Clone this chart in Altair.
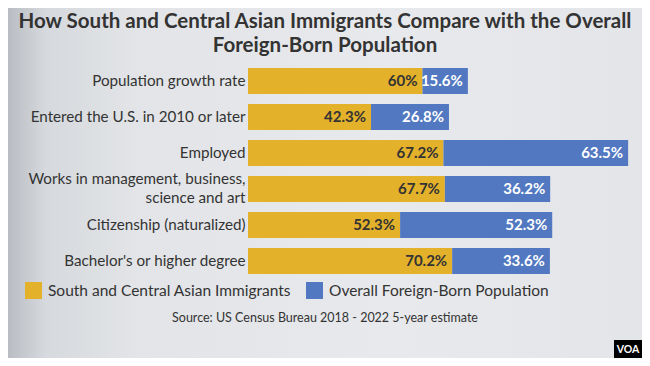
import altair as alt
import pandas as pd

categories = [
    "Population growth rate",
    "Entered the U.S. in 2010 or later",
    "Employed",
    "Works in management, business, science and art",
    "Citizenship (naturalized)",
    "Bachelor's or higher degree",
]
asian_vals = [60, 42.3, 67.2, 67.7, 52.3, 70.2]
overall_vals = [15.6, 26.8, 63.5, 36.2, 52.3, 33.6]
series = ["South and Central Asian Immigrants", "Overall Foreign-Born Population"]
colors = ["#E3B12A", "#5178C0"]
title_lines = [
    "How South and Central Asian Immigrants Compare with the Overall",
    "Foreign-Born Population",
]
source_text = ["Source: US Census Bureau 2018 - 2022 5-year estimate"]

rows = []
for c, a, o in zip(categories, asian_vals, overall_vals):
    rows.append(dict(category=c, group=series[0], start=0, end=a, label=f"{a:g}%"))
    rows.append(dict(category=c, group=series[1], start=a, end=a + o, label=f"{o:g}%"))
df = pd.DataFrame(rows)

FONT = "Lato"
W, H = 381, 216
PL, PT, PR, PB = 240, 55, 13, 79

xscale = alt.Scale(domain=[0, 131], nice=False, zero=True)
yenc = alt.Y(
    "category:N",
    sort=categories,
    scale=alt.Scale(paddingInner=10 / 36, paddingOuter=5 / 36),
    axis=alt.Axis(
        title=None, ticks=False, domain=False, labelFontSize=15.2, labelFont=FONT,
        labelColor="#333333", labelPadding=3, labelLimit=0, labelLineHeight=19,
        zindex=2,
        labelOffset={
            "condition": {
                "test": "datum.value == 'Works in management, business, science and art'",
                "value": -10,
            },
            "value": 0,
        },
        labelExpr="datum.value == 'Works in management, business, science and art' ? "
                  "['Works in management, business,', 'science and art'] : datum.value",
    ),
)

bg = alt.Chart(pd.DataFrame({"k": [0]})).mark_rect(
    color=alt.Gradient(
        gradient="linear", x1=0, x2=1, y1=0, y2=0,
        stops=[
            alt.GradientStop(color="#b9bdc3", offset=0),
            alt.GradientStop(color="#d6d9dd", offset=0.06),
            alt.GradientStop(color="#e2e4e7", offset=0.2),
            alt.GradientStop(color="#e8e9ec", offset=0.6),
            alt.GradientStop(color="#e3e5e8", offset=1),
        ],
    )
).encode(x=alt.value(-PL), x2=alt.value(W + PR), y=alt.value(-PT), y2=alt.value(H + PB))

title = alt.Chart(pd.DataFrame({"t": [title_lines]})).mark_text(
    fontSize=20.5, font=FONT, fontWeight="bold", color="#333333",
    align="center", baseline="middle", lineHeight=24,
).encode(x=alt.value(77), y=alt.value(-41), text="t")

base = alt.Chart(df)
bars = base.mark_bar().encode(
    x=alt.X("start:Q", scale=xscale, axis=None),
    x2="end:Q",
    y=yenc,
    color=alt.Color(
        "group:N",
        scale=alt.Scale(domain=series, range=colors),
        legend=alt.Legend(
            orient="none", legendX=-223, legendY=219, direction="horizontal",
            title=None, symbolType="square", symbolSize=289, labelFontSize=15.5,
            labelFont=FONT, labelColor="#333333", columnPadding=14, labelOffset=6,
            symbolStrokeWidth=0, symbolOpacity=1, labelLimit=400, zindex=2,
        ),
    ),
)

txt_a = base.transform_filter(alt.datum.group == series[0]).mark_text(
    align="right", baseline="middle", dx=-5, fontSize=15, font=FONT,
    fontWeight="bold", color="#333333",
).encode(x=alt.X("end:Q", scale=xscale, axis=None), y=alt.Y("category:N", sort=categories), text="label:N")

txt_o = base.transform_filter(alt.datum.group == series[1]).mark_text(
    align="right", baseline="middle", dx=-5, fontSize=15, font=FONT,
    fontWeight="bold", color="#FFFFFF",
).encode(x=alt.X("end:Q", scale=xscale, axis=None), y=alt.Y("category:N", sort=categories), text="label:N")

src = alt.Chart(pd.DataFrame({"t": source_text})).mark_text(
    fontSize=12.5, font=FONT, color="#333333", align="center", baseline="middle",
).encode(x=alt.value(77), y=alt.value(255), text="t:N")

logo_df = pd.DataFrame({"t": ["VOA"]})
logo_bg = alt.Chart(logo_df).mark_rect(color="#000000").encode(
    x=alt.value(366), x2=alt.value(394), y=alt.value(277), y2=alt.value(295))
logo_tx = alt.Chart(logo_df).mark_text(
    color="#FFFFFF", fontSize=10.5, fontWeight="bold", font=FONT, align="center", baseline="middle",
).encode(x=alt.value(380), y=alt.value(286.5), text="t:N")

chart = alt.layer(bg, title, bars, txt_a, txt_o, src, logo_bg, logo_tx).properties(
    width=W, height=H,
    background="#E4E6E9",
    padding={"left": PL, "top": PT, "right": PR, "bottom": PB},
    autosize=alt.AutoSizeParams(type="none"),
).configure_view(stroke=None)

chart.save("out.html", embed_options={"renderer": "svg", "actions": False})
